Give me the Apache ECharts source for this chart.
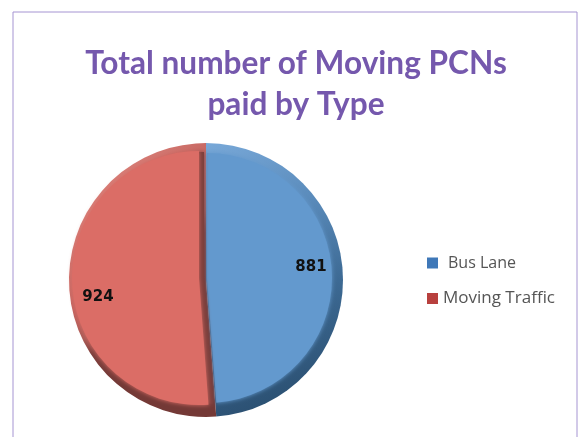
<!DOCTYPE html>
<html>
<head>
<meta charset="utf-8">
<title>Total number of Moving PCNs paid by Type</title>
<script src="https://cdn.jsdelivr.net/npm/echarts@6/dist/echarts.min.js"></script>
<style>
  html, body { margin: 0; padding: 0; background: #fff; }
  #chart { width: 587px; height: 437px; filter: blur(0.5px); }
</style>
</head>
<body>
<div id="chart"></div>
<script>
const categories = ['Bus Lane', 'Moving Traffic']
const values = [881, 924]
const titleLines = ['Total number of Moving PCNs', 'paid by Type']

const edgeColors = [
  { type: 'linear', x: 0, y: 0, x2: 0.75, y2: 1, colorStops: [
    { offset: 0, color: '#78a8d8' }, { offset: 0.3, color: '#5a8bbb' }, { offset: 0.6, color: '#3d6a94' }, { offset: 1, color: '#274a6a' }
  ] },
  { type: 'linear', x: 0, y: 0, x2: 1, y2: 0.5, colorStops: [
    { offset: 0, color: '#e89a93' }, { offset: 0.25, color: '#d97f78' }, { offset: 0.58, color: '#c4645f' }, { offset: 0.72, color: '#a85a55' }, { offset: 0.8, color: '#7e3f3c' }, { offset: 1, color: '#743936' }
  ] }
]
const faceColors = ['#6399ce', '#db6d66']
const seamColors = ['#6399ce', '#7c3f3c']
const legendColors = ['#3f78b8', '#b8403e']

function rim () {
  return categories.map((name, i) => ({
    name,
    value: values[i],
    itemStyle: { color: edgeColors[i] }
  }))
}
function face (index, colors) {
  return categories.map((name, i) => ({
    name,
    value: values[i],
    itemStyle: i === index
      ? { color: colors[i], shadowBlur: 4, shadowColor: colors[i] }
      : { color: 'transparent' }
  }))
}
function faceSeries (index, colors, center, radius) {
  return {
    type: 'pie',
    startAngle: 90,
    center,
    radius,
    silent: true,
    z: 2,
    label: { show: false },
    labelLine: { show: false },
    data: face(index, colors)
  }
}

const myChart = echarts.init(document.getElementById('chart'))
myChart.setOption({
  backgroundColor: '#fff',
  animation: false,
  title: {
    text: titleLines.join('\n'),
    left: 291,
    top: 38,
    textAlign: 'center',
    textStyle: {
      color: '#7558ad',
      fontFamily: 'Lato',
      fontWeight: 'bold',
      fontSize: 31.6,
      lineHeight: 41.5
    }
  },
  legend: {
    orient: 'vertical',
    left: 422,
    top: 250,
    itemWidth: 11,
    itemHeight: 11,
    itemGap: 19,
    icon: 'rect',
    data: categories.map((name, i) => ({ name, itemStyle: { color: legendColors[i] } })),
    selectedMode: false,
    formatter: name => name === categories[0] ? '{a|' + name + '}' : '{b|' + name + '}',
    textStyle: {
      rich: {
        a: { color: '#555', fontFamily: 'Open Sans', fontSize: 16, padding: [0, 0, 0, 5] },
        b: { color: '#555', fontFamily: 'Open Sans', fontSize: 17 }
      }
    }
  },
  graphic: [{
    type: 'polyline',
    silent: true,
    shape: { points: [[13, 437], [13, 12], [577, 12], [577, 437]] },
    style: { stroke: '#a594d2', lineWidth: 1, fill: null }
  }],
  series: [
    {
      type: 'pie',
      startAngle: 90,
      center: [206, 280],
      radius: [0, 137],
      silent: true,
      z: 1,
      label: { show: false },
      labelLine: { show: false },
      data: rim()
    },
    faceSeries(0, faceColors, [207, 278], [0, 125]),
    // dark band along the red slice's straight edge
    faceSeries(1, seamColors, [204, 278], [0, 126]),
    faceSeries(1, faceColors, [199, 278], [0, 127]),
    // value labels on top of the faces
    {
      type: 'pie',
      startAngle: 90,
      center: [206, 280],
      radius: [0, 137],
      silent: true,
      z: 3,
      itemStyle: { color: 'transparent' },
      label: {
        show: true,
        position: 'inside',
        formatter: '{c}',
        color: '#111',
        fontFamily: 'DejaVu Sans',
        fontWeight: 'bold',
        fontSize: 15
      },
      labelLine: { show: false },
      labelLayout: params => params.dataIndex === 0
        ? { x: 311, y: 267, align: 'center', verticalAlign: 'middle' }
        : { x: 98, y: 297, align: 'center', verticalAlign: 'middle' },
      data: categories.map((name, i) => ({ name, value: values[i] }))
    }
  ]
})
</script>
</body>
</html>
